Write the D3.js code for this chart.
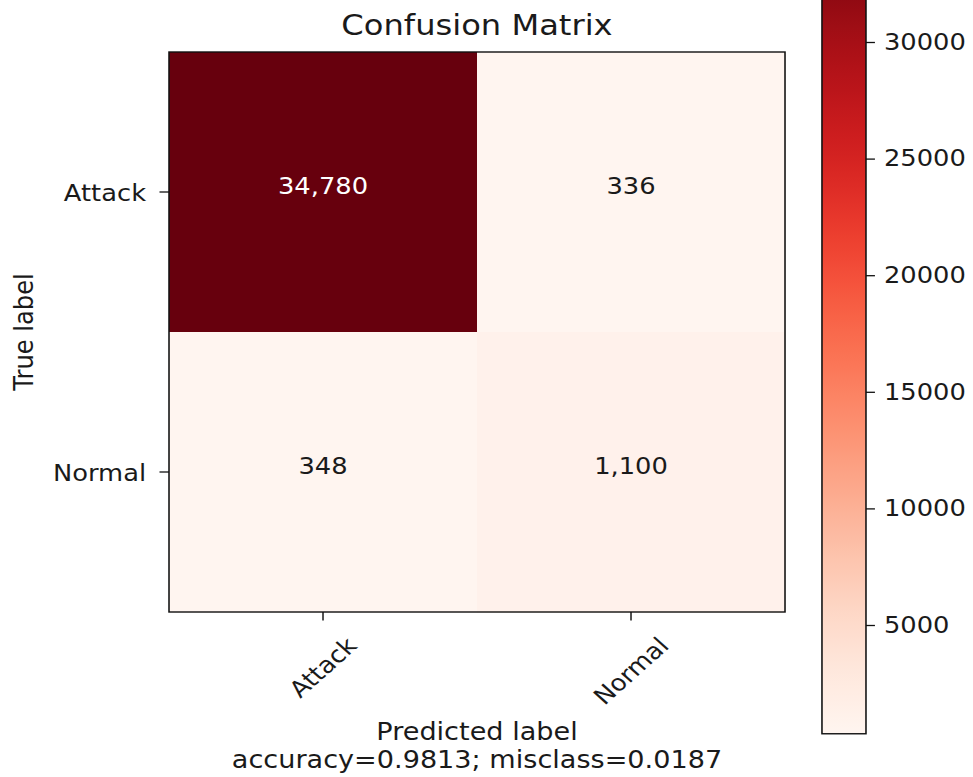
<!DOCTYPE html>
<html>
<head>
<meta charset="utf-8">
<script src="https://cdn.jsdelivr.net/npm/d3@7"></script>
<style>
  html, body { margin: 0; padding: 0; background: #fff; }
  svg { display: block; }
  text { font-family: "DejaVu Sans", sans-serif; fill: #1a1a1a; }
</style>
</head>
<body>
<svg id="chart"></svg>
<script>
// ---- data ----
const trueLabels = ["Attack", "Normal"];
const predLabels = ["Attack", "Normal"];
const countsAttack = [34780, 336];
const countsNormal = [348, 1100];
const colorbarTicks = [5000, 10000, 15000, 20000, 25000, 30000];
const accuracy = 0.9813;
const misclass = 0.0187;
const titleText = "Confusion Matrix";
const xLabelText = "Predicted label";
const yLabelText = "True label";

// ---- layout (design space is horizontally stretched into the window) ----
const W = 973, H = 777;
const sx = 1.12;
const DW = W / sx;
const plot = { left: 150.9, right: 700.9, top: 52, bottom: 612 };
const cbar = { left: 733.9, right: 773.2 };
const fs = 23;
const labelFs = 24.2;
const titleFs = 28.7;

const counts = [countsAttack, countsNormal];
const allVals = counts.flat();
const vmin = d3.min(allVals), vmax = d3.max(allVals);

const svg = d3.select("#chart")
  .attr("width", W).attr("height", H)
  .attr("viewBox", `0 0 ${DW} ${H}`)
  .attr("preserveAspectRatio", "none");

const x = d3.scaleBand().domain(predLabels).range([plot.left, plot.right]);
const y = d3.scaleBand().domain(trueLabels).range([plot.top, plot.bottom]);
const color = d3.scaleSequential(d3.interpolateReds).domain([vmin, vmax]);

// cells
const cells = [];
trueLabels.forEach((t, i) => predLabels.forEach((p, j) => cells.push({ t, p, v: counts[i][j] })));

svg.append("g").selectAll("rect").data(cells).join("rect")
  .attr("x", d => x(d.p)).attr("y", d => y(d.t))
  .attr("width", x.bandwidth() + 0.5).attr("height", y.bandwidth() + 0.5)
  .attr("fill", d => color(d.v));

svg.append("g").selectAll("text").data(cells).join("text")
  .attr("x", d => x(d.p) + x.bandwidth() / 2)
  .attr("y", d => y(d.t) + y.bandwidth() / 2)
  .attr("text-anchor", "middle")
  .attr("dy", "0.1em")
  .style("font-size", fs + "px")
  .style("fill", d => d.v > vmax / 2 ? "#ffffff" : "#1a1a1a")
  .text(d => d3.format(",")(d.v));

// frame
svg.append("rect")
  .attr("x", plot.left).attr("y", plot.top)
  .attr("width", plot.right - plot.left).attr("height", plot.bottom - plot.top)
  .attr("fill", "none").attr("stroke", "#111").attr("stroke-width", 1.4);

// y axis
const yAxis = svg.append("g").attr("transform", `translate(${plot.left},0)`)
  .call(d3.axisLeft(y).tickSize(8.5).tickPadding(12));
yAxis.select(".domain").remove();
yAxis.selectAll("line").attr("stroke", "#111").attr("stroke-width", 1.3);
yAxis.selectAll("text").style("font-size", fs + "px").attr("font-family", null).attr("fill", null)
  .attr("dy", "0.4em");

// x axis
const xAxis = svg.append("g").attr("transform", `translate(0,${plot.bottom})`)
  .call(d3.axisBottom(x).tickSize(8.5));
xAxis.select(".domain").remove();
xAxis.selectAll("line").attr("stroke", "#111").attr("stroke-width", 1.3);
xAxis.selectAll("text")
  .style("font-size", fs + "px").attr("font-family", null).attr("fill", null)
  .attr("y", null).attr("dy", null)
  .attr("text-anchor", "middle")
  .attr("dominant-baseline", "central")
  .each(function () {
    const w = this.getComputedTextLength();
    const half = (w + 27) * Math.SQRT1_2 / 2;
    d3.select(this).attr("transform", `translate(0,${632 - plot.bottom + half}) rotate(-45)`);
  });

// title
svg.append("text")
  .attr("x", (plot.left + plot.right) / 2).attr("y", 35)
  .attr("text-anchor", "middle")
  .style("font-size", titleFs + "px")
  .text(titleText);

// axis labels
svg.append("text")
  .attr("x", (plot.left + plot.right) / 2).attr("y", 740)
  .attr("text-anchor", "middle")
  .style("font-size", labelFs + "px")
  .text(xLabelText);
svg.append("text")
  .attr("x", (plot.left + plot.right) / 2).attr("y", 768)
  .attr("text-anchor", "middle")
  .style("font-size", labelFs + "px")
  .text(`accuracy=${accuracy.toFixed(4)}; misclass=${misclass.toFixed(4)}`);
svg.append("text")
  .attr("transform", `translate(29.5,332) rotate(-90)`)
  .attr("text-anchor", "middle")
  .style("font-size", labelFs + "px")
  .text(yLabelText);

// colorbar
const cScale = d3.scaleLinear().domain([5000, 30000]).range([625, 42]);
const cTop = cScale(vmax), cBot = cScale(vmin);
const defs = svg.append("defs");
const grad = defs.append("linearGradient").attr("id", "cbgrad")
  .attr("x1", 0).attr("y1", 1).attr("x2", 0).attr("y2", 0);
d3.range(0, 1.0001, 0.02).forEach(t => {
  grad.append("stop").attr("offset", t).attr("stop-color", d3.interpolateReds(t));
});
svg.append("rect")
  .attr("x", cbar.left).attr("y", cTop)
  .attr("width", cbar.right - cbar.left).attr("height", cBot - cTop)
  .attr("fill", "url(#cbgrad)")
  .attr("stroke", "#111").attr("stroke-width", 1.4);

const cAxis = svg.append("g").attr("transform", `translate(${cbar.right},0)`)
  .call(d3.axisRight(cScale).tickValues(colorbarTicks).tickSize(8).tickPadding(8).tickFormat(d3.format("d")));
cAxis.select(".domain").remove();
cAxis.selectAll("line").attr("stroke", "#111").attr("stroke-width", 1.3);
cAxis.selectAll("text").style("font-size", fs + "px").attr("font-family", null).attr("fill", null);
</script>
</body>
</html>
